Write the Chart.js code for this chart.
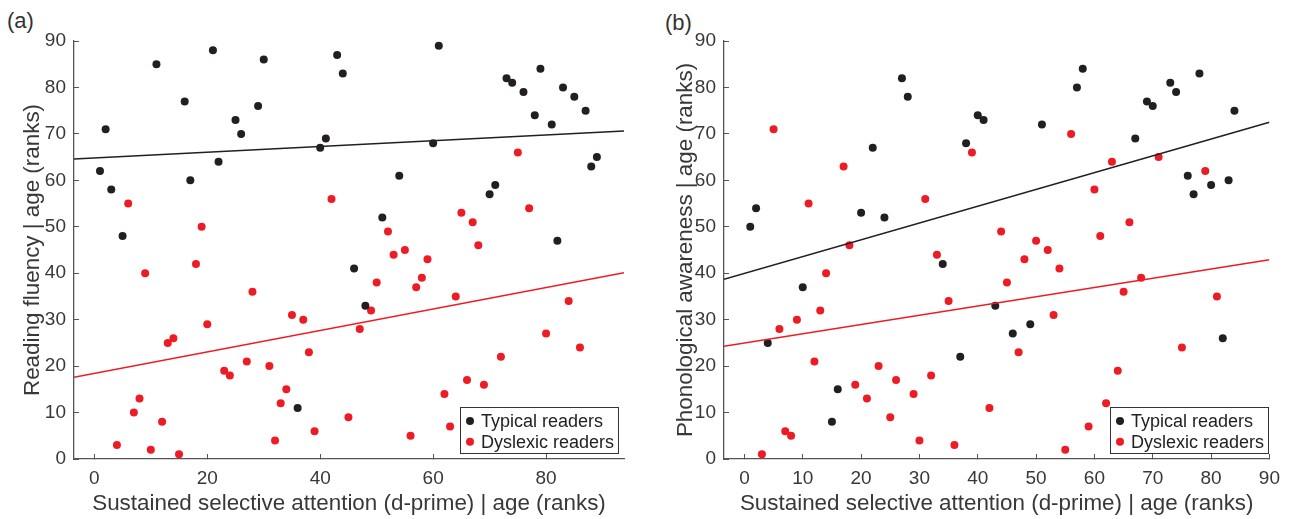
<!DOCTYPE html>
<html>
<head>
<meta charset="utf-8">
<script src="https://cdn.jsdelivr.net/npm/chart.js@4.4.0/dist/chart.umd.min.js"></script>
<style>
  body { margin:0; background:#fff; width:1293px; height:519px; position:relative; overflow:hidden;
         font-family:"Liberation Sans", Arial, sans-serif; }
  canvas { position:absolute; top:0; }
  .tag { position:absolute; font-size:22px; line-height:26px; color:#333; }
</style>
</head>
<body>
<div class="tag" style="left:7px;top:8px">(a)</div>
<div class="tag" style="left:665px;top:10px">(b)</div>
<canvas id="chartA" width="650" height="519" style="left:0"></canvas>
<canvas id="chartB" width="643" height="519" style="left:650px"></canvas>
<script>
// panel (a): reading fluency
const typicalA_x = [1,2,3,5,11,16,17,21,22,25,26,29,30,36,40,41,43,44,46,48,51,54,60,61,70,71,73,74,76,78,79,81,82,83,85,87,88,89];
const typicalA_y = [62,71,58,48,85,77,60,88,64,73,70,76,86,11,67,69,87,83,41,33,52,61,68,89,57,59,82,81,79,74,84,72,47,80,78,75,63,65];
const dyslexicA_x = [4,6,7,8,9,10,12,13,14,15,18,19,20,23,24,27,28,31,32,33,34,35,37,38,39,42,45,47,49,50,52,53,55,56,57,58,59,62,63,64,65,66,67,68,69,72,75,77,80,84,86];
const dyslexicA_y = [3,55,10,13,40,2,8,25,26,1,42,50,29,19,18,21,36,20,4,12,15,31,30,23,6,56,9,28,32,38,49,44,45,5,37,39,43,14,7,35,53,17,51,46,16,22,66,54,27,34,24];
const fitA_x = [-3.6, 93.8];
const fitA_typical = [64.6, 70.6];
const fitA_dyslexic = [17.6, 40.1];

// panel (b): phonological awareness
const typicalB_x = [1,2,4,10,15,16,20,22,24,27,28,34,37,38,40,41,43,46,49,51,57,58,67,69,70,73,74,76,77,78,80,82,83,84];
const typicalB_y = [50,54,25,37,8,15,53,67,52,82,78,42,22,68,74,73,33,27,29,72,80,84,69,77,76,81,79,61,57,83,59,26,60,75];
const dyslexicB_x = [3,5,6,7,8,9,11,12,13,14,17,18,19,21,23,25,26,29,30,31,32,33,35,36,39,42,44,45,47,48,50,52,53,54,55,56,59,60,61,62,63,64,65,66,68,71,75,79,81];
const dyslexicB_y = [1,71,28,6,5,30,55,21,32,40,63,46,16,13,20,9,17,14,4,56,18,44,34,3,66,11,49,38,23,43,47,45,31,41,2,70,7,58,48,12,64,19,36,51,39,65,24,62,35];
const fitB_x = [-3.5, 90];
const fitB_typical = [38.7, 72.5];
const fitB_dyslexic = [24.3, 42.9];

const xTicksA = [0,20,40,60,80];
const xTicksB = [0,10,20,30,40,50,60,70,80,90];
const yTicks = [0,10,20,30,40,50,60,70,80,90];
const legendLabels = ['Typical readers', 'Dyslexic readers'];

const BLACK = '#231f20', RED = '#ed1c24';
const FONT = "'Liberation Sans', Arial, Helvetica, sans-serif";
const AXIS = '#555', TEXT = '#383838';

const pts = (xs, ys) => xs.map((x, i) => ({x: x, y: ys[i]}));

const insideLegend = {
  id: 'insideLegend',
  afterDatasetsDraw(chart) {
    const c = chart.ctx;
    const bx = 460.5, by = 407.5, bw = 158, bh = 46;
    c.save();
    c.fillStyle = '#fff';
    c.fillRect(bx, by, bw, bh);
    c.strokeStyle = '#333';
    c.lineWidth = 1;
    c.strokeRect(bx, by, bw, bh);
    c.font = '18px ' + FONT;
    c.textBaseline = 'middle';
    [BLACK, RED].forEach((col, i) => {
      const yy = by + 13.5 + i * 20.7;
      c.fillStyle = col;
      c.beginPath();
      c.arc(bx + 9.5, yy, 4, 0, Math.PI * 2);
      c.fill();
      c.fillStyle = '#222';
      c.fillText(legendLabels[i], bx + 20.5, yy + 1);
    });
    c.restore();
  }
};

function makeChart(id, o) {
  return new Chart(document.getElementById(id), {
    type: 'scatter',
    data: {
      datasets: [
        { data: pts(o.fitX, o.fitT), showLine: true, borderColor: BLACK, borderWidth: 1.5, pointRadius: 0 },
        { data: pts(o.fitX, o.fitD), showLine: true, borderColor: RED, borderWidth: 1.5, pointRadius: 0 },
        { data: pts(o.tx, o.ty), backgroundColor: BLACK, borderWidth: 0, pointRadius: 4 },
        { data: pts(o.dx, o.dy), backgroundColor: RED, borderWidth: 0, pointRadius: 4 }
      ]
    },
    options: {
      responsive: false,
      animation: false,
      events: [],
      layout: { padding: { top: 41, right: o.padRight, left: 0, bottom: 0 } },
      plugins: { legend: { display: false }, tooltip: { enabled: false } },
      scales: {
        x: {
          type: 'linear', min: o.fitX[0], max: o.fitX[1],
          afterBuildTicks: s => { s.ticks = o.xTicks.map(v => ({value: v})); },
          afterFit: s => { s.height = 60; },
          grid: { drawOnChartArea: false, drawTicks: true, tickLength: -5, color: AXIS, lineWidth: 1 },
          border: { color: AXIS, width: 1.3 },
          ticks: { color: TEXT, font: { family: FONT, size: 19 }, padding: 13, maxRotation: 0, autoSkip: false },
          title: { display: true, text: 'Sustained selective attention (d-prime) | age (ranks)', color: TEXT,
                   font: { family: FONT, size: 22.4 }, padding: { top: 0, bottom: 2 } }
        },
        y: {
          type: 'linear', min: 0, max: 90,
          afterBuildTicks: s => { s.ticks = yTicks.map(v => ({value: v})); },
          afterFit: s => { s.width = 74; },
          grid: { drawOnChartArea: false, drawTicks: true, tickLength: -5, color: AXIS, lineWidth: 1 },
          border: { color: AXIS, width: 1.3 },
          ticks: { color: TEXT, font: { family: FONT, size: 19 }, padding: 13, autoSkip: false },
          title: { display: true, text: o.yTitle, color: TEXT,
                   font: { family: FONT, size: 22.4 }, padding: { top: o.yTitlePad, bottom: 0 } }
        }
      }
    },
    plugins: [insideLegend]
  });
}

makeChart('chartA', {
  tx: typicalA_x, ty: typicalA_y, dx: dyslexicA_x, dy: dyslexicA_y,
  fitX: fitA_x, fitT: fitA_typical, fitD: fitA_dyslexic,
  xTicks: xTicksA, padRight: 26, yTitle: 'Reading fluency | age (ranks)', yTitlePad: 19
});
makeChart('chartB', {
  tx: typicalB_x, ty: typicalB_y, dx: dyslexicB_x, dy: dyslexicB_y,
  fitX: fitB_x, fitT: fitB_typical, fitD: fitB_dyslexic,
  xTicks: xTicksB, padRight: 20, yTitle: 'Phonological awareness | age (ranks)', yTitlePad: 22
});
</script>
</body>
</html>
